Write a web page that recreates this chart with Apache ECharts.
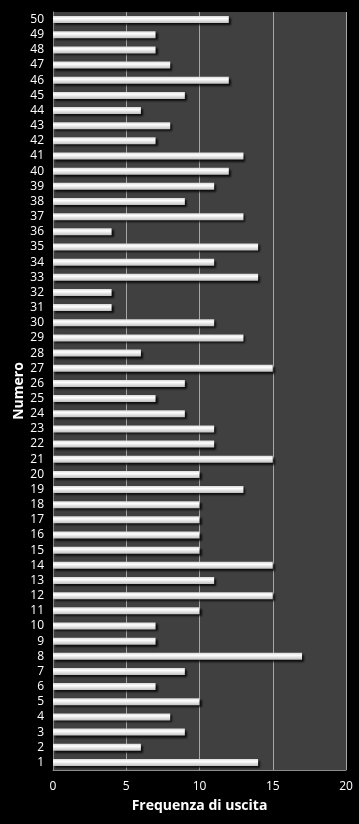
<!DOCTYPE html>
<html>
<head>
<meta charset="utf-8">
<script src="https://cdn.jsdelivr.net/npm/echarts@6/dist/echarts.min.js"></script>
<style>
  html, body { margin: 0; padding: 0; background: #000; }
  #chart { width: 359px; height: 824px; }
</style>
</head>
<body>
<div id="chart"></div>
<script>
// numeri 1..50
const numeri = Array.from({ length: 50 }, (_, i) => String(i + 1))
// frequenza di uscita per numero (1..50)
const frequenze = [
  14, 6, 9, 8, 10, 7, 9, 17, 7, 7,
  10, 15, 11, 15, 10, 10, 10, 10, 13, 10,
  15, 11, 11, 9, 7, 9, 15, 6, 13, 11,
  4, 4, 14, 11, 14, 4, 13, 9, 11, 12,
  13, 7, 8, 6, 9, 12, 8, 7, 7, 12
]
const xTicks = [0, 5, 10, 15, 20]

const chart = echarts.init(document.getElementById('chart'))
chart.setOption({
  backgroundColor: '#000',
  animation: false,
  grid: { left: 53, right: 13, top: 12, bottom: 54, backgroundColor: '#404040', show: true, borderWidth: 0 },
  xAxis: {
    type: 'value',
    min: xTicks[0],
    max: xTicks[xTicks.length - 1],
    interval: 5,
    name: 'Frequenza di uscita',
    nameLocation: 'middle',
    nameGap: 29,
    nameTextStyle: { color: '#fff', fontSize: 14, fontWeight: 'bold', fontFamily: 'Open Sans' },
    axisLine: { show: true, lineStyle: { color: '#8c8c8c', width: 1 } },
    axisTick: { show: false },
    axisLabel: { color: '#fff', fontSize: 12, fontFamily: 'Open Sans', margin: 11 },
    splitLine: { show: true, lineStyle: { color: '#a6a6a6', width: 1 } }
  },
  yAxis: {
    type: 'category',
    data: numeri,
    name: 'Numero',
    nameLocation: 'middle',
    nameGap: 27,
    nameMoveOverlap: false,
    nameRotate: 90,
    nameTextStyle: { color: '#fff', fontSize: 14, fontWeight: 'bold', fontFamily: 'Open Sans' },
    axisLine: { show: true, lineStyle: { color: '#8c8c8c', width: 1 } },
    axisTick: { show: false },
    axisLabel: { color: '#fff', fontSize: 12, fontFamily: 'Open Sans', margin: 9, interval: 0 },
    splitLine: { show: false }
  },
  series: [{
    type: 'bar',
    data: frequenze,
    barWidth: 7,
    itemStyle: {
      color: new echarts.graphic.LinearGradient(0, 0, 0, 1, [
        { offset: 0, color: '#d9d9d9' },
        { offset: 0.35, color: '#ffffff' },
        { offset: 1, color: '#bfbfbf' }
      ]),
      shadowColor: 'rgba(0,0,0,0.8)',
      shadowBlur: 2,
      shadowOffsetX: 2,
      shadowOffsetY: 2
    }
  }]
})
</script>
</body>
</html>
